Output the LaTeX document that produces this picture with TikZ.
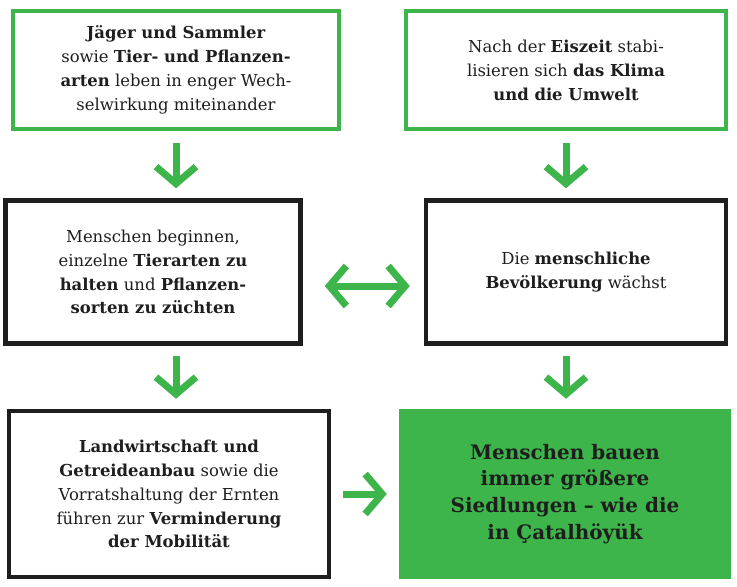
\documentclass[tikz,border=0pt]{standalone}
\usepackage{fontspec}
\setmainfont{DejaVu Serif}
\usetikzlibrary{arrows.meta,positioning}
\definecolor{gruen}{HTML}{3DB54A}
\definecolor{dunkel}{HTML}{1E1E1E}

\begin{document}
\begin{tikzpicture}[x=1bp,y=-1bp,
    >={Straight Barb[length=17bp,width=40bp]},
    kasten/.style={draw,line width=4.5bp,align=center,font=\fontsize{16.5}{24}\selectfont,text=dunkel},
    pfeil/.style={line width=7bp,gruen,->}]
  \useasboundingbox (0,0) rectangle (737,587);
  % obere Reihe
  \node[kasten,draw=gruen,minimum width=326bp,minimum height=118bp] (jaeger) at (176,70)
    {\textbf{Jäger und Sammler}\\sowie \textbf{Tier- und Pflanzen-}\\\textbf{arten} leben in enger Wech-\\selwirkung miteinander};
  \node[kasten,draw=gruen,minimum width=320bp,minimum height=118bp] (eiszeit) at (566,70)
    {Nach der \textbf{Eiszeit} stabi-\\lisieren sich \textbf{das Klima}\\\textbf{und die Umwelt}};
  % mittlere Reihe
  \node[kasten,draw=dunkel,minimum width=295bp,minimum height=143bp] (tiere) at (153,272)
    {Menschen beginnen,\\einzelne \textbf{Tierarten zu}\\\textbf{halten} und \textbf{Pflanzen-}\\\textbf{sorten zu züchten}};
  \node[kasten,draw=dunkel,minimum width=300bp,minimum height=143bp] (bevoelkerung) at (576,272)
    {Die \textbf{menschliche}\\\textbf{Bevölkerung} wächst};
  % untere Reihe
  \node[kasten,draw=dunkel,minimum width=320bp,minimum height=166bp] (landwirtschaft) at (169,494)
    {\textbf{Landwirtschaft und}\\\textbf{Getreideanbau} sowie die\\Vorratshaltung der Ernten\\führen zur \textbf{Verminderung}\\\textbf{der Mobilität}};
  \node[kasten,draw=gruen,fill=gruen,minimum width=328bp,minimum height=166bp,
    font=\fontsize{20}{27}\selectfont\bfseries] (siedlungen) at (565,494)
    {Menschen bauen\\immer größere\\Siedlungen – wie die\\in Çatalhöyük};
  % Pfeile
  \draw[pfeil] ([yshift=-12bp]jaeger.south) -- ([yshift=10bp]tiere.north -| jaeger.south);
  \draw[pfeil] ([yshift=-12bp]eiszeit.south) -- ([yshift=10bp]bevoelkerung.north -| eiszeit.south);
  \draw[pfeil] ([yshift=-10bp]tiere.south -| jaeger.south) -- ([yshift=10bp]landwirtschaft.north -| jaeger.south);
  \draw[pfeil] ([yshift=-10bp]bevoelkerung.south -| eiszeit.south) -- ([yshift=10bp]siedlungen.north -| eiszeit.south);
  \draw[pfeil,<->]
    ([xshift=22bp,yshift=-14bp]tiere.east) -- ([xshift=-14bp,yshift=-14bp]bevoelkerung.west);
  \draw[pfeil] ([xshift=12bp]landwirtschaft.east) -- ([xshift=-12bp]siedlungen.west);
\end{tikzpicture}
\end{document}
